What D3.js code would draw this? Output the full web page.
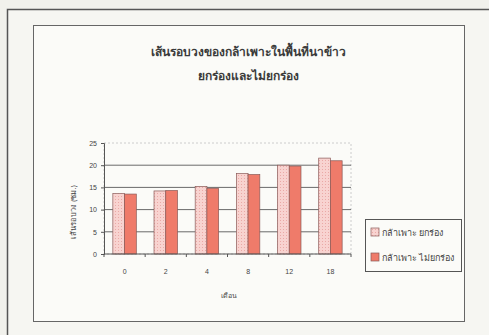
<!DOCTYPE html>
<html>
<head>
<meta charset="utf-8">
<script src="https://cdn.jsdelivr.net/npm/d3@7"></script>
<style>
	body {margin:0; background:#f1f1ec;}
	svg {display:block; font-family: "Noto Sans", "DejaVu Sans", sans-serif;}
</style>
</head>
<body>
<svg id="chart" width="489" height="335"></svg>
<script>
// data
const months = ['0', '2', '4', '8', '12', '18'];
const raised = [13.6, 14.2, 15.2, 18.1, 20.0, 21.6];
const flat = [13.5, 14.3, 14.8, 17.9, 19.8, 21.0];
const seriesNames = ['กล้าเพาะ ยกร่อง', 'กล้าเพาะ ไม่ยกร่อง'];
const yTicks = [0, 5, 10, 15, 20, 25];

const svg = d3.select('#chart');

// pattern for the light bars
const defs = svg.append('defs');
const pat = defs.append('pattern')
	.attr('id', 'dots')
	.attr('width', 3).attr('height', 3)
	.attr('patternUnits', 'userSpaceOnUse');
pat.append('rect').attr('width', 3).attr('height', 3).attr('fill', '#f8d3d0');
pat.append('rect').attr('x', 1).attr('y', 1).attr('width', 1).attr('height', 1).attr('fill', '#eaa9a6');

// outer frame and chart area
svg.append('rect').attr('x', 7.5).attr('y', 9.5).attr('width', 500).attr('height', 340)
	.attr('fill', '#f6f6f2').attr('stroke', '#555').attr('stroke-width', 1.5);
svg.append('rect').attr('x', 33.5).attr('y', 25.5).attr('width', 431).attr('height', 296)
	.attr('fill', '#fbfbf8').attr('stroke', '#666').attr('stroke-width', 1);

// title
svg.append('text').attr('x', 248).attr('y', 56).attr('text-anchor', 'middle')
	.attr('font-size', 12).attr('font-weight', 'bold').attr('fill', '#3a3a3a')
	.text('เส้นรอบวงของกล้าเพาะในพื้นที่นาข้าว');
svg.append('text').attr('x', 248).attr('y', 80).attr('text-anchor', 'middle')
	.attr('font-size', 12).attr('font-weight', 'bold').attr('fill', '#3a3a3a')
	.text('ยกร่องและไม่ยกร่อง');

const margin = {left:104, right:351, top:143, bottom:254};

const x = d3.scaleBand().domain(months).range([margin.left, margin.right]).paddingInner(0).paddingOuter(0);
const y = d3.scaleLinear().domain([0, 25]).range([margin.bottom, margin.top]);
const groupWidth = x.bandwidth() * 0.57;
const xs = d3.scaleBand().domain([0, 1]).range([0, groupWidth]);

// plot area border (faint dotted)
svg.append('rect')
	.attr('x', margin.left).attr('y', y(25))
	.attr('width', margin.right - margin.left).attr('height', y(0) - y(25))
	.attr('fill', 'none').attr('stroke', '#ccc').attr('stroke-dasharray', '2,2');

// gridlines
svg.append('g')
	.selectAll('line')
	.data(yTicks.filter(d => d > 0 && d < 25))
	.join('line')
	.attr('x1', margin.left).attr('x2', margin.right)
	.attr('y1', d => y(d)).attr('y2', d => y(d))
	.attr('stroke', '#6a6a6a').attr('stroke-width', 1);

// bars
const series = [raised, flat];
const fills = ['url(#dots)', '#ef7b6a'];
series.forEach((vals, i) => {
	svg.append('g')
		.selectAll('rect')
		.data(vals)
		.join('rect')
		.attr('x', (d, j) => x(months[j]) + (x.bandwidth() - groupWidth) / 2 + xs(i))
		.attr('y', d => y(d))
		.attr('width', xs.bandwidth())
		.attr('height', d => y(0) - y(d))
		.attr('fill', fills[i])
		.attr('stroke', '#8a5a58').attr('stroke-width', 0.7);
});

// y axis
const yAxis = svg.append('g')
	.attr('transform', 'translate(' + margin.left + ',0)')
	.call(d3.axisLeft(y).tickValues(yTicks).tickSize(3).tickPadding(4));
yAxis.selectAll('text').attr('font-size', 7).attr('fill', '#444').attr('font-family', 'Liberation Sans, Arial, sans-serif');
yAxis.selectAll('line, path').attr('stroke', '#555');

// x axis: ticks at category boundaries
const xAxis = svg.append('g')
	.attr('transform', 'translate(0,' + margin.bottom + ')');
xAxis.append('line').attr('x1', margin.left).attr('x2', margin.right).attr('stroke', '#555');
xAxis.selectAll('line.tk')
	.data(months.concat(['end']))
	.join('line')
	.attr('class', 'tk')
	.attr('x1', (d, i) => margin.left + i * x.step()).attr('x2', (d, i) => margin.left + i * x.step())
	.attr('y1', 0).attr('y2', 3)
	.attr('stroke', '#555');
xAxis.selectAll('text')
	.data(months)
	.join('text')
	.attr('x', d => x(d) + x.bandwidth() / 2)
	.attr('y', 20)
	.attr('text-anchor', 'middle')
	.attr('font-size', 7).attr('fill', '#444')
	.attr('font-family', 'Liberation Sans, Arial, sans-serif')
	.text(d => d);

// axis titles
svg.append('text')
	.attr('transform', 'translate(76,212) rotate(-90)')
	.attr('text-anchor', 'middle').attr('font-size', 7.5).attr('fill', '#444')
	.text('เส้นรอบวง (ซม.)');
svg.append('text')
	.attr('x', 229).attr('y', 298).attr('text-anchor', 'middle')
	.attr('font-size', 7).attr('fill', '#444')
	.text('เดือน');

// legend
const legend = svg.append('g').attr('transform', 'translate(365,219)');
legend.append('rect').attr('x', 0.5).attr('y', 0.5).attr('width', 96).attr('height', 52)
	.attr('fill', '#fbfbf8').attr('stroke', '#555');
seriesNames.forEach((name, i) => {
	const g = legend.append('g').attr('transform', 'translate(6,' + (9 + i * 25) + ')');
	g.append('rect').attr('width', 8).attr('height', 8)
		.attr('fill', fills[i]).attr('stroke', '#8a5a58').attr('stroke-width', 0.7);
	g.append('text').attr('x', 11).attr('y', 7.5)
		.attr('font-size', 9).attr('fill', '#444')
		.text(name);
});
</script>
</body>
</html>
